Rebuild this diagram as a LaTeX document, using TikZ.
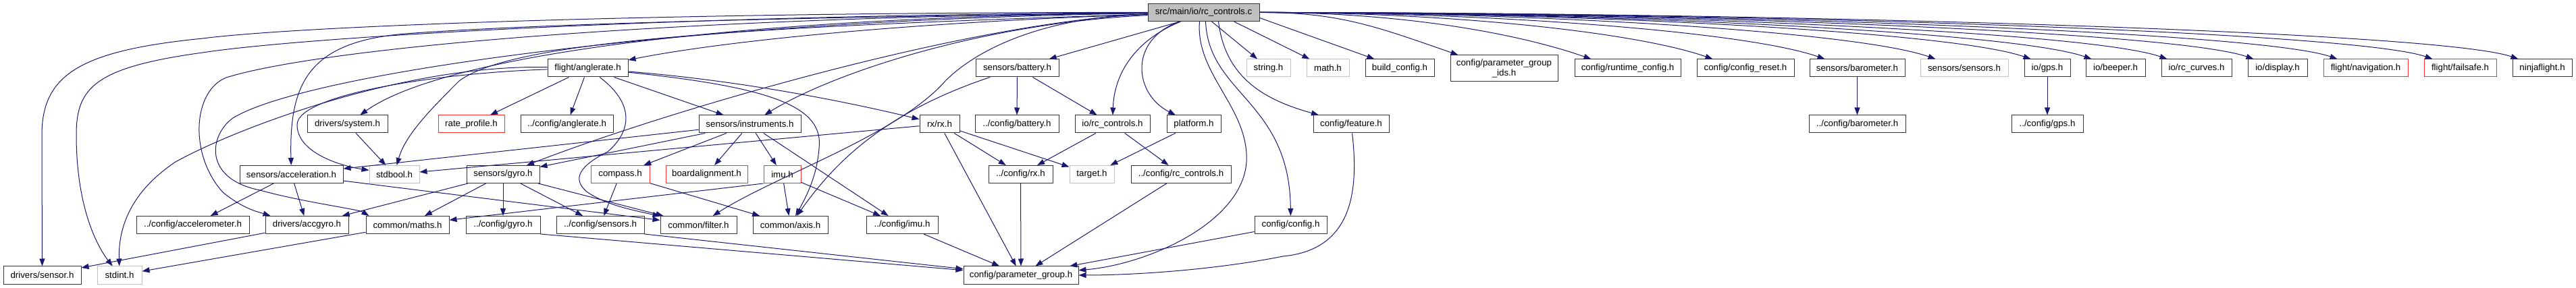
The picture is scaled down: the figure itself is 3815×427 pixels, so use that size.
\documentclass[tikz,border=0pt]{standalone}
\usepackage{fontspec}
\setmainfont{Liberation Sans}
\usepackage{tikz}
\usetikzlibrary{arrows.meta}
\usepackage{xcolor}

\definecolor{edgeblue}{HTML}{191970}
\definecolor{sysgray}{HTML}{BFBFBF}
\definecolor{docred}{HTML}{FF3030}

\tikzset{
  hfile/.style={rectangle, draw=black!80, fill=white, line width=1pt, inner sep=0pt,
    minimum height=26pt, font=\fontsize{13.3}{15}\selectfont},
  hmissing/.style={hfile, draw=docred},
  hsystem/.style={hfile, draw=sysgray},
  incl/.style={draw=edgeblue, line width=1pt, -{Triangle[length=11pt,width=8pt]}}
}

\begin{document}
\begin{tikzpicture}[x=1pt,y=-1pt]
\useasboundingbox (0,0) rectangle (3815,427);

\node[hfile, fill=sysgray, minimum width=165pt] (root) at (1782.5,18.5) {src/main/io/rc\_controls.c};

\node[hfile, minimum width=119pt] (anglerate) at (870.5,101) {flight/anglerate.h};
\node[hfile, minimum width=123pt] (battery) at (1506.5,101) {sensors/battery.h};
\node[hsystem, minimum width=65pt] (stringh) at (1878.5,101) {string.h};
\node[hsystem, minimum width=63pt] (mathh) at (1966.5,101) {math.h};
\node[hfile, minimum width=102pt] (buildcfg) at (2073,101) {build\_config.h};
\node[hfile, minimum width=159pt, minimum height=39pt, align=center] (pgids) at (2227.5,101.5) {config/parameter\_group\\\_ids.h};
\node[hfile, minimum width=157pt] (runtimecfg) at (2410.5,101) {config/runtime\_config.h};
\node[hfile, minimum width=144pt] (cfgreset) at (2585,101) {config/config\_reset.h};
\node[hfile, minimum width=141pt] (baro) at (2750.5,101) {sensors/barometer.h};
\node[hsystem, minimum width=130pt] (sensorsh) at (2909,101) {sensors/sensors.h};
\node[hfile, minimum width=68pt] (gps) at (3032,101) {io/gps.h};
\node[hfile, minimum width=88pt] (beeper) at (3133,101) {io/beeper.h};
\node[hfile, minimum width=104pt] (rccurves) at (3253,101) {io/rc\_curves.h};
\node[hfile, minimum width=88pt] (display) at (3373,101) {io/display.h};
\node[hmissing, minimum width=125pt] (navigation) at (3503.5,101) {flight/navigation.h};
\node[hmissing, minimum width=107pt] (failsafe) at (3643.5,101) {flight/failsafe.h};
\node[hfile, minimum width=88pt] (ninja) at (3765,101) {ninjaflight.h};

\node[hfile, minimum width=119pt] (system) at (514.5,184) {drivers/system.h};
\node[hmissing, minimum width=98pt] (rateprof) at (698,184) {rate\_profile.h};
\node[hfile, minimum width=137pt] (cfganglerate) at (839.5,184) {../config/anglerate.h};
\node[hfile, minimum width=151pt] (instruments) at (1110.5,184) {sensors/instruments.h};
\node[hfile, minimum width=59pt] (rx) at (1391.5,184) {rx/rx.h};
\node[hfile, minimum width=124pt] (cfgbattery) at (1506,184) {../config/battery.h};
\node[hfile, minimum width=111pt] (rcctrlh) at (1647.5,184) {io/rc\_controls.h};
\node[hfile, minimum width=80pt] (platform) at (1768,184) {platform.h};
\node[hfile, minimum width=112pt] (feature) at (2001,184) {config/feature.h};
\node[hfile, minimum width=143pt] (cfgbaro) at (2750.5,184) {../config/barometer.h};
\node[hfile, minimum width=106pt] (cfggps) at (3032,184) {../config/gps.h};

\node[hfile, minimum width=153pt] (accel) at (431.5,258.5) {sensors/acceleration.h};
\node[hsystem, minimum width=74pt] (stdbool) at (584,258.5) {stdbool.h};
\node[hfile, minimum width=108pt] (gyro) at (745,258.5) {sensors/gyro.h};
\node[hmissing, minimum width=87pt] (compass) at (918.5,258.5) {compass.h};
\node[hmissing, minimum width=121pt] (boardal) at (1046.5,258.5) {boardalignment.h};
\node[hmissing, minimum width=55pt] (imu) at (1158.5,258.5) {imu.h};
\node[hfile, minimum width=95pt] (cfgrx) at (1511.5,258.5) {../config/rx.h};
\node[hsystem, minimum width=66pt] (target) at (1617,258.5) {target.h};
\node[hfile, minimum width=148pt] (cfgrcctrl) at (1749,258.5) {../config/rc\_controls.h};

\node[hfile, minimum width=167pt] (cfgaccel) at (285.5,333.5) {../config/accelerometer.h};
\node[hfile, minimum width=123pt] (accgyro) at (454.5,333.5) {drivers/accgyro.h};
\node[hfile, minimum width=123pt] (maths) at (603.5,333.5) {common/maths.h};
\node[hfile, minimum width=110pt] (cfggyro) at (745,333.5) {../config/gyro.h};
\node[hfile, minimum width=130pt] (cfgsensors) at (889,333.5) {../config/sensors.h};
\node[hfile, minimum width=113pt] (filter) at (1034.5,333.5) {common/filter.h};
\node[hfile, minimum width=111pt] (axis) at (1170.5,333.5) {common/axis.h};
\node[hfile, minimum width=106pt] (cfgimu) at (1336,333.5) {../config/imu.h};
\node[hfile, minimum width=107pt] (config) at (1911.5,333.5) {config/config.h};

\node[hfile, minimum width=115pt] (sensor) at (62.5,408) {drivers/sensor.h};
\node[hsystem, minimum width=66pt] (stdint) at (177,408) {stdint.h};
\node[hfile, minimum width=170pt] (pgroup) at (1512,408) {config/parameter\_group.h};

\draw[incl] (root.east) .. controls (1983,18) and (2040,40) .. ([xshift=12pt]pgids.north west);
\draw[incl] (root.east) .. controls (2062,18) and (2237,46) .. ([xshift=25pt]runtimecfg.north west);
\draw[incl] (root.east) .. controls (2134,18) and (2417,46) .. ([xshift=24pt]cfgreset.north west);
\draw[incl] (root.east) .. controls (2200,18) and (2583,46) .. ([xshift=23pt]baro.north west);
\draw[incl] (root.east) .. controls (2266,18) and (2747,46) .. ([xshift=23pt]sensorsh.north west);
\draw[incl] (root.east) .. controls (2322,18) and (2888,46) .. ([xshift=10pt]gps.north west);
\draw[incl] (root.east) .. controls (2358,18) and (2978,46) .. ([xshift=9pt]beeper.north west);
\draw[incl] (root.east) .. controls (2403,18) and (3090,46) .. ([xshift=9pt]rccurves.north west);
\draw[incl] (root.east) .. controls (2454,18) and (3218,46) .. ([xshift=9pt]display.north west);
\draw[incl] (root.east) .. controls (2504,18) and (3342,46) .. ([xshift=21pt]navigation.north west);
\draw[incl] (root.east) .. controls (2560,18) and (3483,46) .. ([xshift=13pt]failsafe.north west);
\draw[incl] (root.east) .. controls (2611,18) and (3610,46) .. ([xshift=9pt]ninja.north west);

\draw[incl] ([xshift=12pt]root.south) -- (stringh);
\draw[incl] ([xshift=45pt]root.south) -- (mathh);
\draw[incl] ([yshift=-8pt]root.east) -- (buildcfg);
\draw[incl] ([xshift=-35pt]root.south) -- (battery);
\draw[incl] ([xshift=-34pt]root.south) .. controls (1680,60) and (1650,110) .. (rcctrlh);
\draw[incl] ([xshift=-36pt]root.south) .. controls (1670,60) and (1680,140) .. (platform);
\draw[incl] ([xshift=-6pt]root.south) .. controls (1770,110) and (1850,160) .. (1846,240) .. controls (1840,330) and (1700,392) .. (pgroup);
\draw[incl] ([xshift=3pt]root.south) .. controls (1790,140) and (1910,150) .. (config);
\draw[incl] ([xshift=22pt]root.south) .. controls (1815,120) and (1880,150) .. (feature);

\draw[incl] (root) .. controls (1300,35) and (1050,65) .. (anglerate);
\draw[incl] (root) .. controls (1100,25) and (660,80) .. (system);
\draw[incl] (root) .. controls (1450,30) and (1000,160) .. (gyro);
\draw[incl] (root) .. controls (1450,35) and (1230,110) .. (instruments);
\draw[incl] (root) .. controls (1100,40) and (760,60) .. (680,120) .. controls (640,160) and (600,200) .. (stdbool);
\draw[incl] (root) .. controls (1200,25) and (800,35) .. (600,50) .. controls (460,62) and (428,120) .. (accel);
\draw[incl] (root) .. controls (1000,25) and (480,70) .. (335,115) .. controls (285,135) and (280,230) .. (330,285) .. controls (360,310) and (385,315) .. ([xshift=8pt]accgyro.north west);
\draw[incl] (root) .. controls (1000,30) and (450,110) .. (345,175) .. controls (310,200) and (300,265) .. (385,282) .. controls (450,300) and (530,310) .. ([xshift=5pt]maths.north west);
\draw[incl] (root) .. controls (1000,22) and (450,55) .. (300,78) .. controls (140,100) and (113,130) .. (113,200) .. controls (113,300) and (140,360) .. (stdint);
\draw[incl] (root) .. controls (1000,18) and (450,38) .. (300,57) .. controls (120,75) and (62,110) .. (62,200) -- (sensor);
\draw[incl] (root) .. controls (1550,25) and (1450,70) .. (1400,120) .. controls (1330,200) and (1150,260) .. (filter);

\draw[incl] (anglerate) -- (rateprof);
\draw[incl] (anglerate) -- (cfganglerate);
\draw[incl] (anglerate) -- (instruments);
\draw[incl] (anglerate) .. controls (1100,120) and (1250,150) .. (rx);
\draw[incl] (anglerate) .. controls (1150,130) and (1220,160) .. (1213,220) .. controls (1210,260) and (1195,290) .. (axis);
\draw[incl] (anglerate) .. controls (935,150) and (940,190) .. (900,225) .. controls (860,245) and (845,265) .. (870,285) .. controls (900,305) and (940,312) .. (filter);
\draw[incl] (anglerate) .. controls (600,95) and (350,190) .. (260,240) .. controls (200,280) and (175,330) .. (stdint);
\draw[incl] (anglerate) .. controls (650,108) and (440,140) .. (440,185) .. controls (440,225) and (500,245) .. (stdbool);

\draw[incl] (instruments) -- (accel);
\draw[incl] (instruments) -- (gyro);
\draw[incl] (instruments) -- (compass);
\draw[incl] (instruments) -- (boardal);
\draw[incl] (instruments) -- (imu);
\draw[incl] (instruments) -- (cfgimu);

\draw[incl] (imu) -- (axis);
\draw[incl] (imu) -- (cfgimu);
\draw[incl] (imu.south west) -- (maths);
\draw[incl] (compass) -- (cfgsensors);
\draw[incl] (compass) -- (axis);

\draw[incl] (gyro) -- (cfggyro);
\draw[incl] (gyro) -- (cfgsensors);
\draw[incl] (gyro) -- (maths);
\draw[incl] (gyro) -- (accgyro);
\draw[incl] (gyro) -- (filter);
\draw[incl] (accel) -- (cfgaccel);
\draw[incl] (accel) -- (accgyro);
\draw[incl] (accel) -- (filter);
\draw[incl] (accgyro) -- (sensor);
\draw[incl] (maths) -- (stdint);
\draw[incl] (system) -- (stdbool);

\draw[incl] (rx) -- (stdbool);
\draw[incl] (rx) -- (cfgrx);
\draw[incl] (rx) -- (target);
\draw[incl] (rx) -- (pgroup);
\draw[incl] (battery) -- (cfgbattery);
\draw[incl] (battery) -- (rcctrlh);
\draw[incl] (battery) .. controls (1300,170) and (1230,250) .. (axis);
\draw[incl] (rcctrlh) -- (cfgrx);
\draw[incl] (rcctrlh) -- (cfgrcctrl);
\draw[incl] (platform) -- (target);

\draw[incl] (cfgrx) -- (pgroup);
\draw[incl] (cfgrcctrl) -- (pgroup);
\draw[incl] (cfgimu) -- (pgroup);
\draw[incl] (cfggyro.south east) -- (pgroup);
\draw[incl] (cfgsensors.south east) -- (pgroup);
\draw[incl] (config) -- (pgroup);
\draw[incl] (feature) .. controls (2012,280) and (2005,370) .. (1900,380) .. controls (1800,400) and (1680,408) .. (pgroup);

\draw[incl] (baro) -- (cfgbaro);
\draw[incl] (gps) -- (cfggps);

\end{tikzpicture}
\end{document}
